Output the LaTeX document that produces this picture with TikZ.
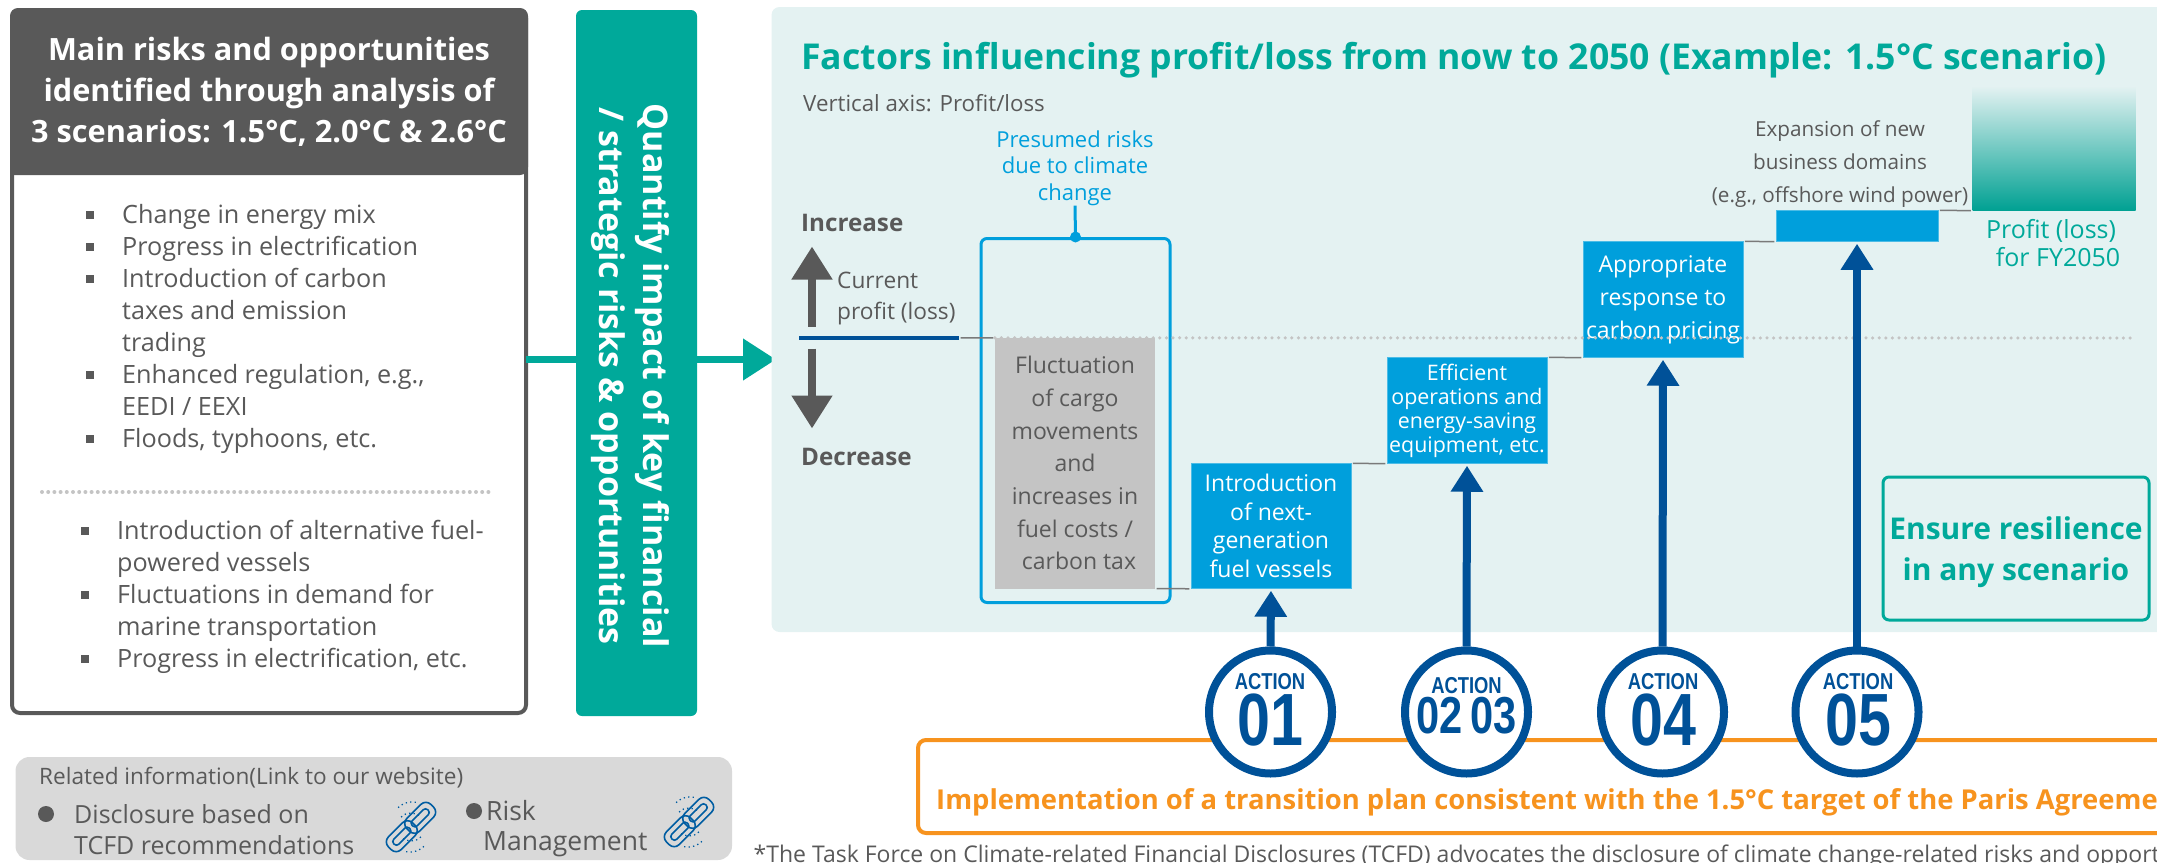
\documentclass[tikz,border=0pt]{standalone}
\usepackage{fontspec}
\usepackage{xcolor}
\setmainfont{Open Sans}
\newfontfamily\actionfont[FakeStretch=0.8]{Liberation Sans}
\usetikzlibrary{positioning,arrows.meta}

\definecolor{txtgray}{HTML}{595959}
\definecolor{teal1}{HTML}{00A99A}
\definecolor{sky1}{HTML}{009FDC}
\definecolor{navy1}{HTML}{005198}
\definecolor{pale1}{HTML}{E4F2F2}
\definecolor{orange1}{HTML}{F7931E}
\definecolor{relgray}{HTML}{D9D9D9}
\definecolor{riskgray}{HTML}{C4C4C4}

\newcommand{\bul}{\llap{\raisebox{4pt}{\rule{8pt}{8pt}}\hspace{28pt}}}
\newcommand{\fs}[1]{\fontsize{#1}{#1}\selectfont}

\tikzset{
    bodytext/.style={text=txtgray, inner sep=0pt, font=\fs{25}, align=left, anchor=west},
    listtext/.style={bodytext, anchor=north west, font=\fontsize{25.2}{32}\selectfont},
    headtext/.style={text=white, inner sep=0pt, font=\fs{30.7}\bfseries, align=center},
    actionbox/.style={fill=sky1, draw=sky1!70!white, line width=0.5pt, text=white, inner sep=0pt, align=center},
    stepline/.style={draw=txtgray!80, line width=1.5pt, shorten <=1.5pt, shorten >=1.5pt},
    actionarrow/.style={draw=navy1, line width=8pt, shorten >=2pt, -{Triangle[length=26pt,width=31pt]}},
    grayarrow/.style={draw=txtgray, line width=8pt, -{Triangle[length=33pt,width=39pt]}},
    actioncircle/.style={circle, draw=navy1, fill=white, line width=8pt, minimum size=123pt, inner sep=0pt},
    actionlabel/.style={text=navy1, inner sep=0pt, font=\actionfont\fs{23}\bfseries},
    actionnum/.style={text=navy1, inner sep=0pt, font=\actionfont\fs{74}\bfseries},
    linkicon/.pic={
        \begin{scope}[rotate=45]
        \draw[navy1!85!sky1, line width=1.6pt, rounded corners=7pt] (-30,-9) rectangle (4,9);
        \draw[navy1!85!sky1, line width=1.6pt, rounded corners=3pt] (-24,-3.5) rectangle (-2,3.5);
        \draw[navy1!85!sky1, line width=1.6pt, rounded corners=7pt] (-4,-9) rectangle (30,9);
        \draw[navy1!85!sky1, line width=1.6pt, rounded corners=3pt] (2,-3.5) rectangle (24,3.5);
        \draw[navy1!85!sky1, line width=1.3pt, dash pattern=on 1.3pt off 3.2pt] (0,14) arc (90:180:14) (0,-14) arc (270:360:14);
        \draw[navy1!85!sky1, line width=1.3pt, dash pattern=on 1.3pt off 3.2pt] (-21,14) arc (145:90:21) (21,-14) arc (-35:-90:21);
        \end{scope}
    }
}

\begin{document}
\begin{tikzpicture}[x=1pt,y=-1pt]
        \useasboundingbox (0,0) rectangle (2157,862);
        \clip (0,0) rectangle (2157,862);

        % left column
        \draw[txtgray, line width=4pt, rounded corners=8pt] (12,10) rectangle (526,713);
        \fill[txtgray, rounded corners=8pt] (10,175) -- (10,8) -- (528,8) -- (528,175) [sharp corners] -- cycle;
        \node[headtext] (headA) at (269,53) {Main risks and opportunities};
        \node[headtext] (headB) at (269,93) {identified through analysis of};
        \node[headtext] (headC) at (269,132.5) {3 scenarios: 1.5°C, 2.0°C \& 2.6°C};

        \node[listtext] (listA) at (122,204) {\bul Change in energy mix\\ \bul Progress in electrification\\ \bul Introduction of carbon\\ taxes and emission\\ trading\\ \bul Enhanced regulation, e.g.,\\ EEDI / EEXI\\ \bul Floods, typhoons, etc.};
        \draw[riskgray, line width=4pt, line cap=round, dash pattern=on 0pt off 6.2pt] (42,492) -- (492,492);
        \node[listtext] (listB) at (117,520) {\bul Introduction of alternative fuel-\\ powered vessels\\ \bul Fluctuations in demand for\\ marine transportation\\ \bul Progress in electrification, etc.};

        % arrow through the bar
        \coordinate (flowstart) at (526,359.5);
        \coordinate (flowend) at (776,359.5);
        \draw[teal1, line width=7.5pt, -{Triangle[length=33pt,width=40pt]}] (flowstart) -- (flowend);
        \node[fill=teal1, rounded corners=6pt, minimum width=121pt, minimum height=706pt, inner sep=0pt] (bar) at (636.5,363) {};
        \node[text=white, inner sep=0pt, font=\fontsize{34}{44}\selectfont\bfseries, align=center, rotate=-90] (barText) at (630,376) {Quantify impact of key financial\\/ strategic risks \& opportunities};

        % related information
        \fill[relgray, rounded corners=14pt] (15.5,757) rectangle (732,860);
        \node[bodytext, font=\fs{22.6}] (relHead) at (39,778) {Related information(Link to our website)};
        \node[circle, fill=txtgray, minimum size=16pt, inner sep=0pt] (dotA) at (46,814) {};
        \node[bodytext] (relA) at (74,814) {Disclosure based on};
        \node[bodytext] (relB) at (74,845) {TCFD recommendations};
        \node[circle, fill=txtgray, minimum size=16pt, inner sep=0pt] (dotB) at (474,811) {};
        \node[bodytext, font=\fs{26.5}] (relC) at (486,811) {Risk};
        \node[bodytext, font=\fs{26.5}] (relD) at (483,844) {Management};
        \pic at (411,827) {linkicon};
        \pic at (689,822) {linkicon};

        % panel
        \fill[pale1, rounded corners=8pt] (771.5,7) rectangle (2190,632);
        \node[text=teal1, inner sep=0pt, font=\fs{35.6}\bfseries, anchor=west] (title) at (801,60) {Factors influencing profit/loss from now to 2050 (Example: 1.5°C scenario)};
        \node[bodytext, font=\fs{22.3}] (axis) at (803,103) {Vertical axis: Profit/loss};
        \node[text=sky1, inner sep=0pt, font=\fontsize{22}{26.5}\selectfont, align=center] (presumed) at (1075,168) {Presumed risks\\due to climate\\change};
        \node[draw=sky1, line width=3pt, rounded corners=6pt, minimum width=189pt, minimum height=364pt, inner sep=0pt] (riskframe) at (1075.5,420.5) {};
        \draw[sky1, line width=3pt] (presumed.south) -- (riskframe.north);
        \fill[sky1] (riskframe.north) circle (5.5);

        \node[bodytext, font=\fs{24.2}\bfseries] (inc) at (801,222.5) {Increase};
        \node[bodytext, font=\fs{24.2}\bfseries] (dec) at (801,456.5) {Decrease};
        \coordinate (upA) at (812,326.5);
        \coordinate (upB) at (812,246.5);
        \coordinate (downA) at (812,348.5);
        \coordinate (downB) at (812,428.5);
        \draw[grayarrow] (upA) -- (upB);
        \draw[grayarrow] (downA) -- (downB);
        \node[bodytext, font=\fontsize{22.7}{31}\selectfont] (current) at (837,298.5) {Current\\profit (loss)};

        \coordinate (nowA) at (799,338);
        \coordinate (nowB) at (959,338);
        \coordinate (dotEnd) at (2132,338);
        \node[fill=riskgray, minimum width=160pt, minimum height=250.5pt, inner sep=0pt, text=txtgray, font=\fontsize{23}{32.7}\selectfont, align=center] (riskbox) at (1075,463.25) {Fluctuation\\of cargo\\movements\\and\\increases in\\fuel costs /\\\hspace*{8pt}carbon tax};
        \draw[navy1, line width=3.5pt] (nowA) -- (nowB);
        \draw[stepline] (nowB) -- (riskbox.north west);

        % steps
        \node[actionbox, minimum width=160pt, minimum height=125pt, font=\fontsize{23}{28.5}\selectfont] (introbox) at (1271,526) {Introduction\\of next-\\generation\\fuel vessels};
        \node[actionbox, minimum width=160pt, minimum height=106pt, font=\fontsize{21.4}{24}\selectfont] (effbox) at (1467,410.5) {Efficient\\operations and\\energy-saving\\equipment, etc.};
        \node[actionbox, minimum width=160pt, minimum height=116pt, font=\fontsize{23}{33}\selectfont] (carbbox) at (1663,299.5) {Appropriate\\response to\\carbon pricing};
        \node[actionbox, minimum width=162pt, minimum height=31pt] (windbox) at (1857,226) {};
        \node[text=txtgray, inner sep=0pt, font=\fontsize{20.7}{33}\selectfont, align=center] (expansion) at (1840,164) {Expansion of new\\business domains\\(e.g., offshore wind power)};
        \node[minimum width=163pt, minimum height=124.5pt, inner sep=0pt, top color=pale1, bottom color=teal1!95!black] (endbar) at (2054,148.25) {};
        \node[text=teal1, inner sep=0pt, font=\fs{25}] (endA) at (2051,231) {Profit (loss)};
        \node[text=teal1, inner sep=0pt, font=\fs{25}] (endB) at (2058,257) {for FY2050};

        \draw[riskgray, line width=3.5pt, line cap=round, dash pattern=on 0pt off 6.6pt] (riskbox.north west) -- (dotEnd);
        \draw[stepline] (riskbox.south east) -- (introbox.south west);
        \draw[stepline] (introbox.north east) -- (effbox.south west);
        \draw[stepline] (effbox.north east) -- (carbbox.south west);
        \draw[stepline] (carbbox.north east) -- (windbox.south west);
        \draw[stepline] (windbox.north east) -- (endbar.south west);

        \node[draw=teal1, line width=3pt, rounded corners=6pt, minimum width=266pt, minimum height=143pt, inner sep=0pt] (resil) at (2016,548.5) {};
        \node[text=teal1, inner sep=0pt, font=\fs{30}\bfseries] (resilA) at (2016,528) {Ensure resilience};
        \node[text=teal1, inner sep=0pt, font=\fs{30}\bfseries] (resilB) at (2016,573) {in any scenario};

        % transition plan
        \draw[orange1, line width=4pt, rounded corners=8pt] (918,740) rectangle (2190,833);
        \node[text=orange1, inner sep=0pt, font=\fs{27.4}\bfseries, anchor=west] (plan) at (936,802) {Implementation of a transition plan consistent with the 1.5°C target of the Paris Agreement};
        \node[text=txtgray, inner sep=0pt, font=\fs{23}, anchor=west] (note) at (753.5,856) {*The Task Force on Climate-related Financial Disclosures (TCFD) advocates the disclosure of climate change-related risks and opportunities};

        % actions
        \node[actioncircle] (actionA) at (1270.5,712) {};
        \node[actioncircle] (actionB) at (1466.5,712) {};
        \node[actioncircle] (actionC) at (1662.5,712) {};
        \node[actioncircle] (actionD) at (1857,712) {};
        \node[actionlabel] (labelA) at (1270,682) {ACTION};
        \node[actionlabel] (labelB) at (1466.5,686) {ACTION};
        \node[actionlabel] (labelC) at (1663,682) {ACTION};
        \node[actionlabel] (labelD) at (1858,682) {ACTION};
        \node[actionnum] (numA) at (1270,720) {01};
        \node[actionnum, font=\actionfont\fs{52}\bfseries] (numB) at (1466.5,716) {02\hspace{8pt}03};
        \node[actionnum] (numC) at (1663,720) {04};
        \node[actionnum] (numD) at (1858,720) {05};
        \draw[actionarrow] (actionA.north) -- (introbox.south);
        \draw[actionarrow] (actionB.north) -- (effbox.south);
        \draw[actionarrow] (actionC.north) -- (carbbox.south);
        \draw[actionarrow] (actionD.north) -- (windbox.south);
\end{tikzpicture}
\end{document}
